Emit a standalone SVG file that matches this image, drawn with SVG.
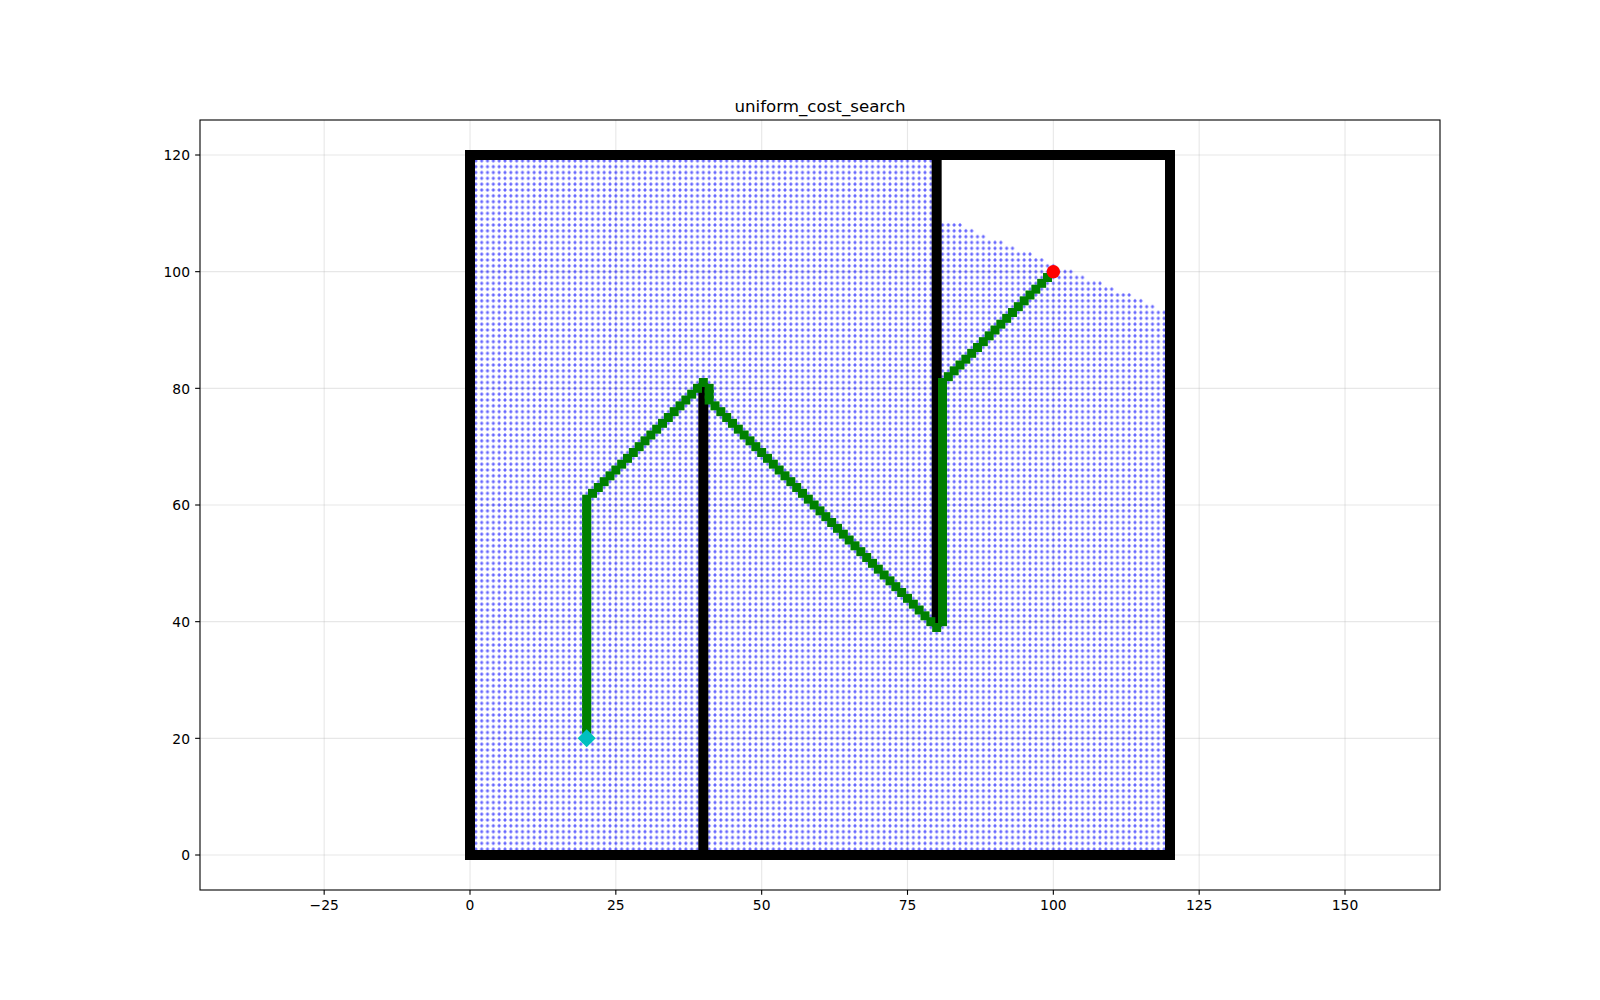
<svg xmlns="http://www.w3.org/2000/svg" width="1600" height="1000" viewBox="0 0 1600 1000">
<style>
.grid{stroke:#b0b0b0;stroke-opacity:0.3;stroke-width:1.1;fill:none}
.tick{stroke:#000;stroke-width:1.1}
.lbl{font-family:"DejaVu Sans","Liberation Sans",sans-serif;font-size:13.89px;fill:#000}
.ttl{font-family:"DejaVu Sans","Liberation Sans",sans-serif;font-size:16.67px;fill:#000}
</style>
<defs>
<pattern id="dots" patternUnits="userSpaceOnUse" x="-0.5" y="-0.5" width="1" height="1">
<path d="M0.21 0.5H0.79M0.5 0.21V0.79" stroke="#0000ff" stroke-width="0.2" stroke-opacity="0.75" fill="none"/>
</pattern>
<marker id="sq" markerUnits="userSpaceOnUse" viewBox="-1 -1 2 2" markerWidth="1.543" markerHeight="1.543" refX="0" refY="0" orient="0" overflow="visible">
<rect x="-1" y="-1" width="2" height="2" fill="#008000"/>
</marker>
</defs>
<rect x="0" y="0" width="1600" height="1000" fill="#fff"/>
<g id="grid">
<line class="grid" x1="324.17" y1="120" x2="324.17" y2="890"/>
<line class="grid" x1="470" y1="120" x2="470" y2="890"/>
<line class="grid" x1="615.83" y1="120" x2="615.83" y2="890"/>
<line class="grid" x1="761.67" y1="120" x2="761.67" y2="890"/>
<line class="grid" x1="907.5" y1="120" x2="907.5" y2="890"/>
<line class="grid" x1="1053.33" y1="120" x2="1053.33" y2="890"/>
<line class="grid" x1="1199.17" y1="120" x2="1199.17" y2="890"/>
<line class="grid" x1="1345" y1="120" x2="1345" y2="890"/>
<line class="grid" x1="200" y1="855" x2="1440" y2="855"/>
<line class="grid" x1="200" y1="738.33" x2="1440" y2="738.33"/>
<line class="grid" x1="200" y1="621.67" x2="1440" y2="621.67"/>
<line class="grid" x1="200" y1="505" x2="1440" y2="505"/>
<line class="grid" x1="200" y1="388.33" x2="1440" y2="388.33"/>
<line class="grid" x1="200" y1="271.67" x2="1440" y2="271.67"/>
<line class="grid" x1="200" y1="155" x2="1440" y2="155"/>
</g>
<g transform="translate(470 855) scale(5.833333 -5.833333)">
<g id="explored">
<polygon fill="url(#dots)" points="0.5,0.5 119.5,0.5 119.5,93.5 117.5,93.5 117.5,94.5 115.5,94.5 115.5,95.5 113.5,95.5 113.5,96.5 110.5,96.5 110.5,97.5 108.5,97.5 108.5,98.5 105.5,98.5 105.5,99.5 103.5,99.5 103.5,100.5 100.5,100.5 100.5,101.5 98.5,101.5 98.5,102.5 96.5,102.5 96.5,103.5 93.5,103.5 93.5,104.5 91.5,104.5 91.5,105.5 88.5,105.5 88.5,106.5 86.5,106.5 86.5,107.5 84.5,107.5 84.5,108.5 80.5,108.5 80.5,119.5 0.5,119.5"/>
</g>
<g id="obstacles" stroke="#000" stroke-width="1.714" fill="none">
<rect x="0" y="0" width="120" height="120"/>
<line x1="40" y1="0" x2="40" y2="80" stroke-linecap="square"/>
<line x1="80" y1="40" x2="80" y2="120" stroke-linecap="square"/>
</g>
<g id="connectors">
<polyline id="path" fill="none" stroke="#008000" stroke-width="0.343" marker-start="url(#sq)" marker-mid="url(#sq)" marker-end="url(#sq)" points="20,20 20,21 20,22 20,23 20,24 20,25 20,26 20,27 20,28 20,29 20,30 20,31 20,32 20,33 20,34 20,35 20,36 20,37 20,38 20,39 20,40 20,41 20,42 20,43 20,44 20,45 20,46 20,47 20,48 20,49 20,50 20,51 20,52 20,53 20,54 20,55 20,56 20,57 20,58 20,59 20,60 20,61 21,62 22,63 23,64 24,65 25,66 26,67 27,68 28,69 29,70 30,71 31,72 32,73 33,74 34,75 35,76 36,77 37,78 38,79 39,80 40,81 41,80 41,79 41,78 42,77 43,76 44,75 45,74 46,73 47,72 48,71 49,70 50,69 51,68 52,67 53,66 54,65 55,64 56,63 57,62 58,61 59,60 60,59 61,58 62,57 63,56 64,55 65,54 66,53 67,52 68,51 69,50 70,49 71,48 72,47 73,46 74,45 75,44 76,43 77,42 78,41 79,40 80,39 81,40 81,41 81,42 81,43 81,44 81,45 81,46 81,47 81,48 81,49 81,50 81,51 81,52 81,53 81,54 81,55 81,56 81,57 81,58 81,59 81,60 81,61 81,62 81,63 81,64 81,65 81,66 81,67 81,68 81,69 81,70 81,71 81,72 81,73 81,74 81,75 81,76 81,77 81,78 81,79 81,80 81,81 82,82 83,83 84,84 85,85 86,86 87,87 88,88 89,89 90,90 91,91 92,92 93,93 94,94 95,95 96,96 97,97 98,98 99,99 100,100"/>
</g>
</g>
<g id="start">
<polygon points="586.67,729.33 595.67,738.33 586.67,747.33 577.67,738.33" fill="#00bfbf"/>
</g>
<g id="goal">
<circle cx="1053.33" cy="271.67" r="6.7" fill="#ff0000"/>
</g>
<g id="axes">
<rect x="200" y="120" width="1240" height="770" fill="none" stroke="#000" stroke-width="1.1"/>
<line class="tick" x1="324.17" y1="890" x2="324.17" y2="894.86"/>
<line class="tick" x1="470" y1="890" x2="470" y2="894.86"/>
<line class="tick" x1="615.83" y1="890" x2="615.83" y2="894.86"/>
<line class="tick" x1="761.67" y1="890" x2="761.67" y2="894.86"/>
<line class="tick" x1="907.5" y1="890" x2="907.5" y2="894.86"/>
<line class="tick" x1="1053.33" y1="890" x2="1053.33" y2="894.86"/>
<line class="tick" x1="1199.17" y1="890" x2="1199.17" y2="894.86"/>
<line class="tick" x1="1345" y1="890" x2="1345" y2="894.86"/>
<line class="tick" x1="195.14" y1="855" x2="200" y2="855"/>
<line class="tick" x1="195.14" y1="738.33" x2="200" y2="738.33"/>
<line class="tick" x1="195.14" y1="621.67" x2="200" y2="621.67"/>
<line class="tick" x1="195.14" y1="505" x2="200" y2="505"/>
<line class="tick" x1="195.14" y1="388.33" x2="200" y2="388.33"/>
<line class="tick" x1="195.14" y1="271.67" x2="200" y2="271.67"/>
<line class="tick" x1="195.14" y1="155" x2="200" y2="155"/>
<g class="lbl" text-anchor="middle">
<text x="324.17" y="910">−25</text>
<text x="470" y="910">0</text>
<text x="615.83" y="910">25</text>
<text x="761.67" y="910">50</text>
<text x="907.5" y="910">75</text>
<text x="1053.33" y="910">100</text>
<text x="1199.17" y="910">125</text>
<text x="1345" y="910">150</text>
</g>
<g class="lbl" text-anchor="end">
<text x="190" y="860.3">0</text>
<text x="190" y="743.6">20</text>
<text x="190" y="627">40</text>
<text x="190" y="510.3">60</text>
<text x="190" y="393.6">80</text>
<text x="190" y="277">100</text>
<text x="190" y="160.3">120</text>
</g>
<text class="ttl" x="820" y="111.7" text-anchor="middle">uniform_cost_search</text>
</g>
</svg>
